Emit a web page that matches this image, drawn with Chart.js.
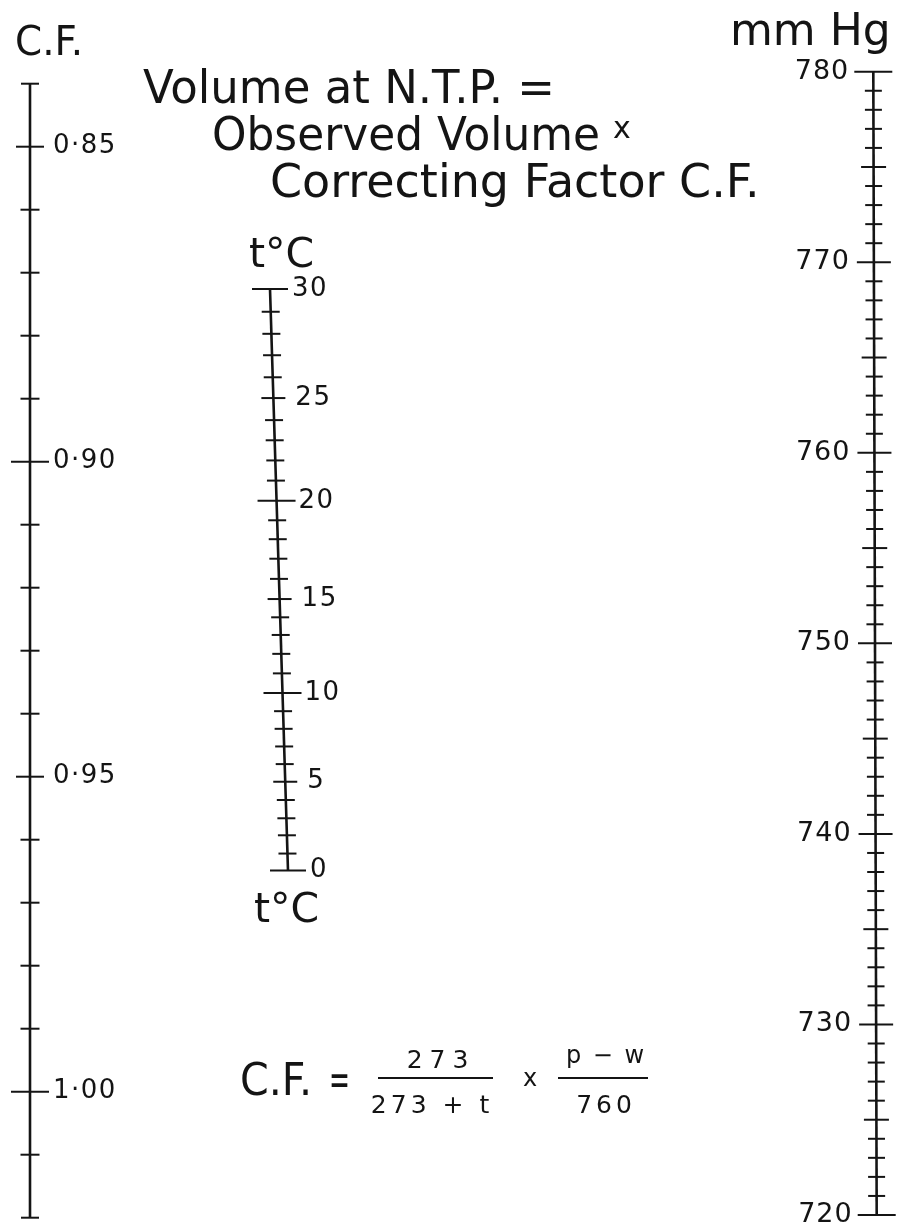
<!DOCTYPE html>
<html>
<head>
<meta charset="utf-8">
<script src="https://cdn.jsdelivr.net/npm/chart.js@4.4.1/dist/chart.umd.min.js"></script>
<style>
  html, body { margin: 0; padding: 0; background: #fff; }
  #wrap { width: 897px; height: 1227px; position: relative; }
</style>
</head>
<body>
<div id="wrap"><canvas id="nomo"></canvas></div>
<script>
// ---- scale readings ----
const cfRange = [0.84, 1.02];                 // ends of the C.F. scale
const cfLabels = [0.85, 0.90, 0.95, 1.00];
const pressureRange = [720, 780];             // mm Hg
const pressureLabels = [720, 730, 740, 750, 760, 770, 780];
const tempLabels = [0, 5, 10, 15, 20, 25, 30];
const tempDeg = [0, 1, 2, 3, 4, 5, 6, 7, 8, 9, 10, 11, 12, 13, 14, 15,
                 16, 17, 18, 19, 20, 21, 22, 23, 24, 25, 26, 27, 28, 29, 30];
// height of each degree mark of the t scale, given as the C.F. reading level with it
const tempLevel = [0.9649, 0.9622, 0.9593, 0.9566, 0.9537, 0.9508, 0.9480, 0.9452,
                   0.9424, 0.9396, 0.9367, 0.9336, 0.9305, 0.9275, 0.9247, 0.9218,
                   0.9186, 0.9154, 0.9123, 0.9093, 0.9062, 0.9030, 0.8998, 0.8966,
                   0.8934, 0.8899, 0.8866, 0.8831, 0.8797, 0.8762, 0.8726];

// ---- layout (page pixels) ----
const W = 897, H = 1227;
const place = {
  cf: { vTop: 0.84, yTop: 83.7, vBot: 1.02, yBot: 1217.7, xTop: 30, xBot: 30 },
  p:  { vTop: 780, yTop: 71.7, vBot: 720, yBot: 1215, xTop: 873.3, xBot: 876.7 },
  t:  { xTop: 270, xBot: 288 }
};
const INK = '#141414';
const FONT = '"DejaVu Sans", sans-serif';

function yScale(pl) {
  const k = (pl.vBot - pl.vTop) / (pl.yBot - pl.yTop);
  const a = pl.vTop - pl.yTop * k;
  const b = pl.vTop + (H - pl.yTop) * k;
  return { type: 'linear', display: false, min: Math.min(a, b), max: Math.max(a, b), reverse: a < b };
}
function lerp(a, b, f) { return a + (b - a) * f; }

// tick lists
const cfTicks = [];
for (let k = Math.round(cfRange[0] * 100); k <= Math.round(cfRange[1] * 100); k++) cfTicks.push(k / 100);
const pTicks = [];
for (let p = pressureRange[0]; p <= pressureRange[1]; p++) pTicks.push(p);

const cfX = v => lerp(place.cf.xTop, place.cf.xBot, (v - cfRange[0]) / (cfRange[1] - cfRange[0]));
const pX = v => lerp(place.p.xTop, place.p.xBot, (pressureRange[1] - v) / (pressureRange[1] - pressureRange[0]));
const tTop = tempLevel[tempLevel.length - 1], tBot = tempLevel[0];
const tX = lvl => lerp(place.t.xTop, place.t.xBot, (lvl - tTop) / (tBot - tTop));

function cfTickLen(v) {
  const h = Math.round(v * 100);
  if (v === cfRange[0] || v === cfRange[1]) return 9;
  if (h % 10 === 0) return 19;
  if (h % 5 === 0) return 14;
  return 9.5;
}
function pTickLen(p) {
  if (p === pressureRange[0] || p === pressureRange[1]) return 19;
  if (p % 10 === 0) return 17;
  if (p % 5 === 0) return 12.5;
  return 8.5;
}
function tTickLen(t) {
  if (t === 0 || t === 30) return 18;
  if (t % 10 === 0) return 19;
  if (t % 5 === 0) return 12;
  return 9;
}

const tickStyle = { type: 'scatter', pointStyle: 'line', pointBorderWidth: 2,
  pointBorderColor: INK, pointBackgroundColor: INK, clip: false };
const axisStyle = { type: 'line', borderColor: INK, borderWidth: 2.6, pointRadius: 0, clip: false };

const datasets = [
  Object.assign({ label: 'C.F. axis', yAxisID: 'cf',
    data: cfRange.map(v => ({ x: cfX(v), y: v })) }, axisStyle),
  Object.assign({ label: 'C.F. ticks', yAxisID: 'cf',
    data: cfTicks.map(v => ({ x: cfX(v), y: v })),
    pointRadius: c => cfTickLen(cfTicks[c.dataIndex]) }, tickStyle),
  Object.assign({ label: 't axis', yAxisID: 'cf',
    data: [tBot, tTop].map(v => ({ x: tX(v), y: v })) }, axisStyle),
  Object.assign({ label: 't ticks', yAxisID: 'cf',
    data: tempLevel.map(v => ({ x: tX(v), y: v })),
    pointRadius: c => tTickLen(tempDeg[c.dataIndex]) }, tickStyle),
  Object.assign({ label: 'p axis', yAxisID: 'p',
    data: pressureRange.map(v => ({ x: pX(v), y: v })) }, axisStyle),
  Object.assign({ label: 'p ticks', yAxisID: 'p',
    data: pTicks.map(v => ({ x: pX(v), y: v })),
    pointRadius: c => pTickLen(pTicks[c.dataIndex]) }, tickStyle)
];

function txt(ctx, s, x, y, size, opts) {
  opts = opts || {};
  ctx.font = (opts.weight || 'normal') + ' ' + size + 'px ' + FONT;
  ctx.textAlign = opts.align || 'left';
  ctx.textBaseline = opts.baseline || 'alphabetic';
  ctx.letterSpacing = (opts.spacing || 0) + 'px';
  if (opts.maxWidth) ctx.fillText(s, x, y, opts.maxWidth);
  else ctx.fillText(s, x, y);
  ctx.letterSpacing = '0px';
}
function bar(ctx, x1, x2, y) {
  ctx.beginPath(); ctx.moveTo(x1, y); ctx.lineTo(x2, y); ctx.stroke();
}

const textPlugin = {
  id: 'nomoText',
  beforeDraw(chart) {
    const ctx = chart.ctx;
    ctx.save(); ctx.fillStyle = '#fff'; ctx.fillRect(0, 0, chart.width, chart.height); ctx.restore();
  },
  afterDatasetsDraw(chart) {
    const ctx = chart.ctx, sx = chart.scales.x, scf = chart.scales.cf, sp = chart.scales.p;
    ctx.save();
    ctx.fillStyle = INK; ctx.strokeStyle = INK; ctx.lineWidth = 2;

    // scale numbers
    cfLabels.forEach(v => {
      txt(ctx, v.toFixed(2).replace('.', '\u00b7'), sx.getPixelForValue(cfX(v)) + 23,
          scf.getPixelForValue(v), 26, { baseline: 'middle', spacing: 1.5 });
    });
    tempLabels.forEach(t => {
      const lvl = tempLevel[tempDeg.indexOf(t)];
      txt(ctx, String(t), sx.getPixelForValue(tX(lvl)) + 22, scf.getPixelForValue(lvl), 26,
          { baseline: 'middle', spacing: 1.5 });
    });
    pressureLabels.forEach(p => {
      txt(ctx, String(p), sx.getPixelForValue(pX(p)) - 24, sp.getPixelForValue(p), 27,
          { baseline: 'middle', align: 'right', spacing: 1 });
    });

    // scale names
    txt(ctx, 'C.F.', 15, 55, 41, { maxWidth: 68 });
    txt(ctx, 'mm Hg', 730, 45, 44, { maxWidth: 165 });
    txt(ctx, 't\u00b0C', 249, 267, 41, { maxWidth: 66 });
    txt(ctx, 't\u00b0C', 254, 922, 41, { maxWidth: 66 });

    // heading
    txt(ctx, 'Volume at N.T.P. =', 143, 103, 46, { maxWidth: 412 });
    txt(ctx, 'Observed Volume', 212, 150, 46, { maxWidth: 388 });
    txt(ctx, 'x', 613, 138, 30);
    txt(ctx, 'Correcting Factor C.F.', 270, 197, 46, { maxWidth: 505 });

    // formula
    txt(ctx, 'C.F.', 240, 1095, 45, { maxWidth: 72 });
    txt(ctx, '=', 329, 1095, 45, { maxWidth: 21 });
    txt(ctx, '273', 441, 1068, 25, { align: 'center', spacing: 7 });
    bar(ctx, 378, 493, 1078);
    txt(ctx, '273 + t', 432, 1113, 25, { align: 'center', spacing: 4 });
    txt(ctx, 'x', 523, 1086, 24);
    txt(ctx, 'p \u2212 w', 606, 1063, 24, { align: 'center', spacing: 2 });
    bar(ctx, 558, 648, 1078);
    txt(ctx, '760', 606, 1113, 25, { align: 'center', spacing: 4 });
    ctx.restore();
  }
};

new Chart(document.getElementById('nomo'), {
  data: { datasets: datasets },
  options: {
    responsive: true,
    maintainAspectRatio: false,
    animation: false,
    events: [],
    layout: { padding: 0, autoPadding: false },
    plugins: { legend: { display: false }, tooltip: { enabled: false } },
    scales: {
      x: { type: 'linear', display: false, min: 0, max: W },
      cf: yScale(place.cf),
      p: yScale(place.p)
    }
  },
  plugins: [textPlugin]
});
</script>
</body>
</html>
